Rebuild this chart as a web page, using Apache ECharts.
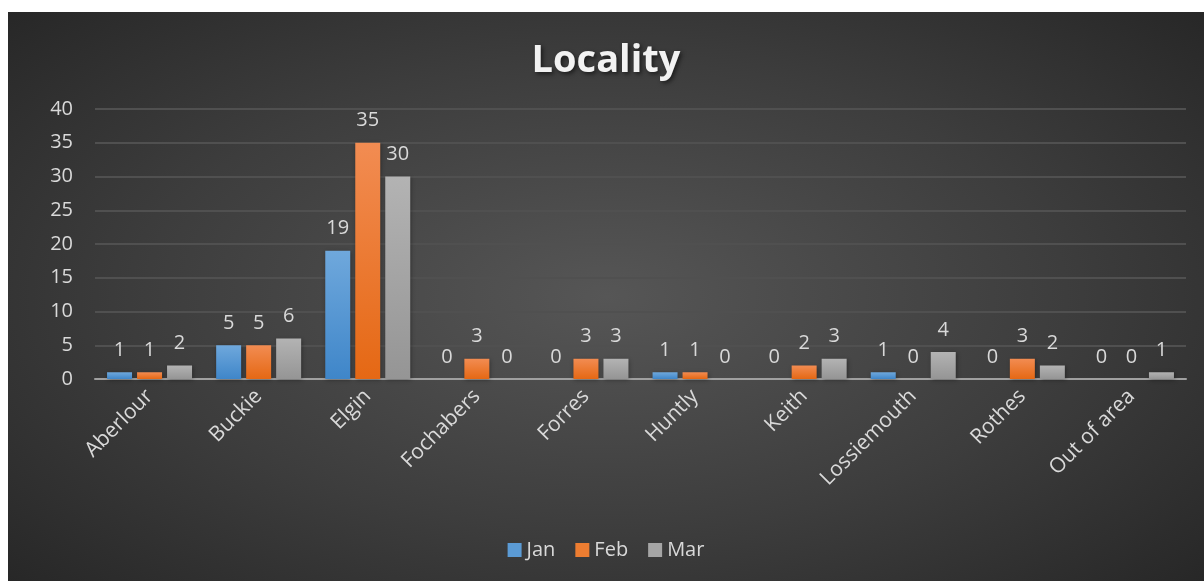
<!DOCTYPE html>
<html>
<head>
<meta charset="utf-8">
<script src="https://cdn.jsdelivr.net/npm/echarts@6/dist/echarts.min.js"></script>
<style>
  html, body { margin: 0; padding: 0; background: #ffffff; }
  #chart {
    position: absolute; left: 8px; top: 12px; width: 1196px; height: 569px;
    background: radial-gradient(ellipse 70% 75% at 50% 50%, #565656 0%, #3d3d3d 55%, #262626 100%);
  }
</style>
</head>
<body>
<div id="chart"></div>
<script>
// Monthly counts per locality
const categories = ['Aberlour', 'Buckie', 'Elgin', 'Fochabers', 'Forres', 'Huntly', 'Keith', 'Lossiemouth', 'Rothes', 'Out of area'];
const jan = [1, 5, 19, 0, 0, 1, 0, 1, 0, 0];
const feb = [1, 5, 35, 3, 3, 1, 2, 0, 3, 0];
const mar = [2, 6, 30, 0, 3, 0, 3, 4, 2, 1];
const seriesNames = ['Jan', 'Feb', 'Mar'];

const font = '"Open Sans", Lato, sans-serif';

function grad(top, bottom) {
  return new echarts.graphic.LinearGradient(0, 0, 0, 1, [
    { offset: 0, color: top }, { offset: 1, color: bottom }
  ]);
}

const colors = [
  grad('#6fa8dc', '#3f86c9'),
  grad('#f28c52', '#e56814'),
  grad('#b3b3b3', '#959595')
];
const legendColors = ['#5b9bd5', '#ed7d31', '#a5a5a5'];

function makeSeries(name, data, i) {
  return {
    name: name,
    type: 'bar',
    data: data,
    barWidth: 25,
    barGap: '20%',
    itemStyle: {
      color: colors[i],
      shadowColor: 'rgba(0,0,0,0.35)', shadowBlur: 4, shadowOffsetX: 1, shadowOffsetY: 1
    },
    label: {
      show: true, position: 'top', distance: 12,
      color: '#d9d9d9', fontSize: 20, fontFamily: font
    }
  };
}

const chart = echarts.init(document.getElementById('chart'), null, { renderer: 'canvas' });
chart.setOption({
  backgroundColor: 'transparent',
  animation: false,
  color: legendColors,
  title: {
    text: 'Locality',
    left: 'center', top: 25,
    textStyle: {
      color: '#f2f2f2', fontSize: 38, fontWeight: 'bold', fontFamily: font,
      textShadowColor: 'rgba(0,0,0,0.55)', textShadowBlur: 4, textShadowOffsetX: 2, textShadowOffsetY: 2
    }
  },
  legend: {
    bottom: 16, left: 'center',
    itemWidth: 14, itemHeight: 14, itemGap: 20,
    icon: 'rect',
    textStyle: { color: '#d9d9d9', fontSize: 20, fontFamily: font },
    data: seriesNames.map((n, i) => ({ name: n, itemStyle: { color: legendColors[i] } }))
  },
  grid: { left: 87, right: 18, top: 97, bottom: 202 },
  xAxis: {
    type: 'category',
    data: categories,
    axisLine: { lineStyle: { color: '#a0a0a0', width: 2 } },
    axisTick: { show: false },
    axisLabel: {
      rotate: 45, interval: 0, margin: 14,
      color: '#d9d9d9', fontSize: 21, fontFamily: font
    }
  },
  yAxis: {
    type: 'value',
    min: 0, max: 40, interval: 5,
    axisLine: { show: false },
    axisTick: { show: false },
    splitLine: { lineStyle: { color: '#505050', width: 2 } },
    axisLabel: { color: '#d9d9d9', fontSize: 20, fontFamily: font, margin: 22 }
  },
  series: [
    makeSeries(seriesNames[0], jan, 0),
    makeSeries(seriesNames[1], feb, 1),
    makeSeries(seriesNames[2], mar, 2)
  ]
});
</script>
</body>
</html>
